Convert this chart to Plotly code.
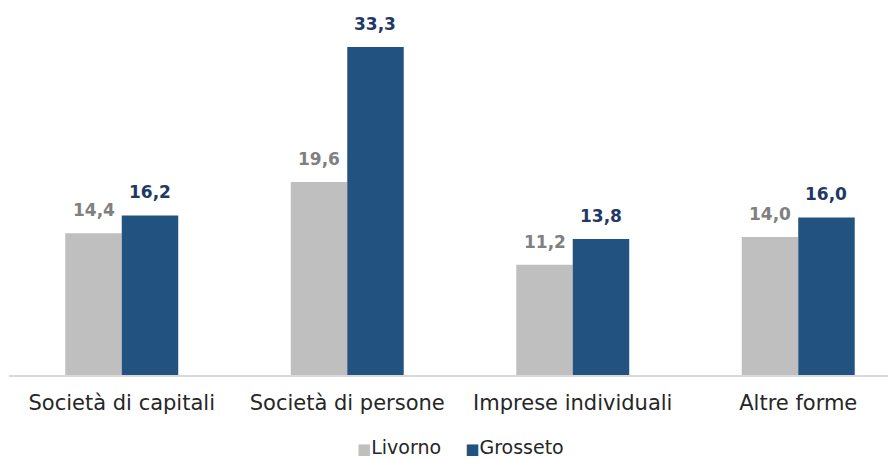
import plotly.graph_objects as go

categories = ["Società di capitali", "Società di persone", "Imprese individuali", "Altre forme"]
livorno = [14.4, 19.6, 11.2, 14.0]
grosseto = [16.2, 33.3, 13.8, 16.0]
series_names = ["Livorno", "Grosseto"]
colors = ["#BFBFBF", "#22527F"]
label_colors = ["#808080", "#1F3864"]

def fmt(v):
    return f"{v:.1f}".replace(".", ",")

FONT = "DejaVu Sans"
BARGAP = 0.499

fig = go.Figure()
for name, vals, col in zip(series_names, [livorno, grosseto], colors):
    fig.add_trace(go.Bar(name=name, x=categories, y=vals, marker=dict(color=col, line=dict(width=0)),
                         showlegend=False))

# value labels above bars
half = (1 - BARGAP) / 4
for s, (vals, lc) in enumerate(zip([livorno, grosseto], label_colors)):
    off = -half if s == 0 else half
    for i, v in enumerate(vals):
        fig.add_annotation(x=i + off, y=v, xref="x", yref="y", text=f"<b>{fmt(v)}</b>",
                           showarrow=False, yanchor="middle", yshift=23,
                           font=dict(family=FONT, size=17, color=lc))

# legend
legend_html = (f"<span style='color:{colors[0]};font-size:15px'>■</span>{series_names[0]}"
               f"    <span style='color:{colors[1]};font-size:15px'>■</span>{series_names[1]}")
fig.add_annotation(x=0.505, y=-0.196, xref="paper", yref="paper", text=legend_html,
                   showarrow=False, xanchor="center", yanchor="middle",
                   font=dict(family=FONT, size=19, color="#262626"))

fig.update_layout(
    width=896, height=459,
    margin=dict(l=1, r=0, t=0, b=92, autoexpand=False),
    plot_bgcolor="white", paper_bgcolor="white",
    barmode="group", bargap=BARGAP, bargroupgap=0,
    font=dict(family=FONT, size=21, color="#262626"),
    showlegend=False,
)
fig.update_xaxes(showline=True, linecolor="#D9D9D9", linewidth=2, ticks="", showgrid=False,
                 range=[-0.5, 3.469], automargin=False, ticklabelstandoff=8,
                 tickfont=dict(size=21, color="#262626"))
fig.update_yaxes(visible=False, range=[0, 37.26], showgrid=False, automargin=False)

fig.write_html("out.html")
